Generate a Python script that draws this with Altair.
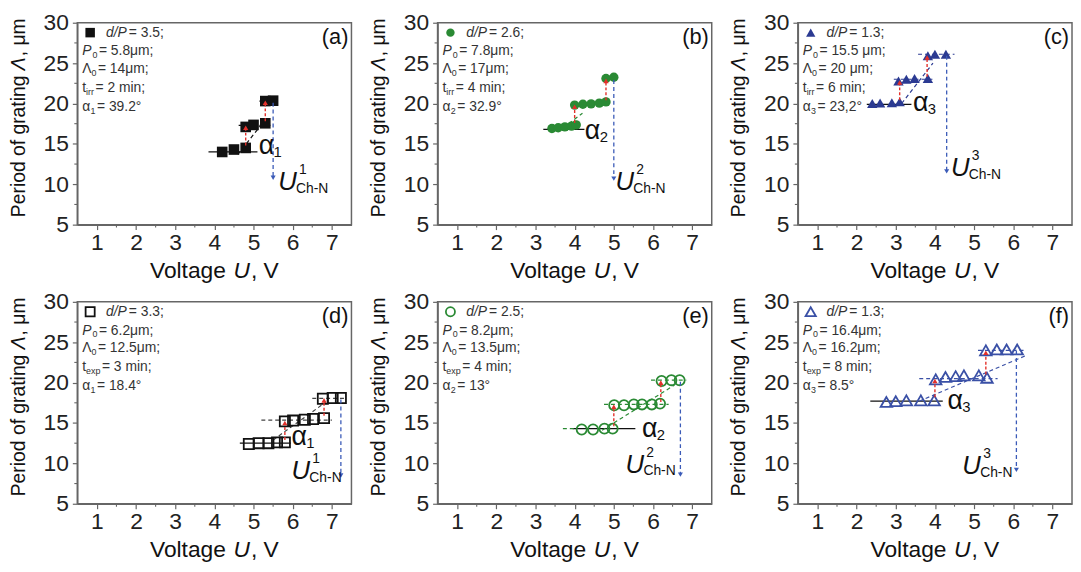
import altair as alt
import pandas as pd

# ---------------- data ----------------
a_U = [4.2, 4.5, 4.8, 4.8, 5.0, 5.3, 5.3, 5.5]
a_L = [14.0, 14.3, 14.5, 17.1, 17.35, 17.55, 20.3, 20.35]
b_U = [3.42, 3.58, 3.75, 3.92, 4.04, 4.0, 4.21, 4.42, 4.63, 4.8, 4.8, 5.0]
b_L = [16.9, 17.0, 17.1, 17.2, 17.35, 19.8, 19.9, 19.95, 20.05, 20.2, 23.1, 23.25]
c_U = [2.4, 2.6, 2.9, 3.1, 3.07, 3.27, 3.48, 3.82, 3.82, 4.0, 4.28]
c_L = [20.0, 20.05, 20.1, 20.2, 22.8, 23.0, 23.1, 23.1, 25.9, 26.1, 26.1]
d_U = [4.88, 5.13, 5.38, 5.6, 5.8, 5.8, 6.01, 6.31, 6.52, 6.8, 6.77, 7.02, 7.23]
d_L = [12.4, 12.5, 12.5, 12.6, 12.6, 15.2, 15.3, 15.4, 15.5, 15.6, 18.0, 18.1, 18.1]
e_U = [4.18, 4.47, 4.76, 4.97, 5.01, 5.26, 5.51, 5.72, 5.97, 6.18, 6.22, 6.47, 6.68]
e_L = [14.2, 14.2, 14.3, 14.3, 17.2, 17.2, 17.3, 17.3, 17.3, 17.4, 20.2, 20.3, 20.3]
f_U = [2.76, 3.0, 3.27, 3.64, 3.98, 4.02, 4.27, 4.53, 4.74, 5.12, 5.33, 5.3, 5.58, 5.83, 6.1]
f_L = [17.6, 17.7, 17.8, 17.8, 17.8, 20.4, 20.7, 20.8, 20.9, 20.9, 20.6, 24.0, 24.1, 24.1, 24.1]

panel_tags = ["(a)", "(b)", "(c)", "(d)", "(e)", "(f)"]
dP_vals = ["3.5", "2.6", "1.3", "3.3", "2.5", "1.3"]
P0_vals = ["5.8μm;", "7.8μm;", "15.5 μm;", "6.2μm;", "8.2μm;", "16.4μm;"]
L0_vals = ["14μm;", "17μm;", "20 μm;", "12.5μm;", "13.5μm;", "16.2μm;"]
t_subs = ["irr", "irr", "irr", "exp", "exp", "exp"]
t_vals = ["2 min;", "4 min;", "6 min;", "3 min;", "4 min;", "8 min;"]
alpha_idx = ["1", "2", "3", "1", "2", "3"]
alpha_vals = ["39.2°", "32.9°", "23,2°", "18.4°", "13°", "8.5°"]

x_ticks = [1, 2, 3, 4, 5, 6, 7]
y_ticks = [5, 10, 15, 20, 25, 30]
x_minor = [1.5, 2.5, 3.5, 4.5, 5.5, 6.5]
y_minor = [7.5, 12.5, 17.5, 22.5, 27.5]

# reference horizontal line through the first level: (U start, U end, Λ)
ref_lines = [(3.85, 5.1, 14.0), (3.2, 4.25, 16.8), (2.26, 3.4, 19.9),
             (4.65, 5.95, 12.5), (3.95, 5.55, 14.3), (2.35, 4.2, 17.7)]
# dashed guide lines: (U1, Λ1, U2, Λ2)
dash_lines = [
    [(4.62, 17.3, 5.45, 17.3), (5.15, 20.3, 5.62, 20.3), (4.6, 13.7, 5.35, 18.3)],
    [(3.85, 17.5, 4.2, 18.8)],
    [(2.95, 23.0, 3.95, 23.0), (3.57, 26.1, 4.5, 26.1), (3.15, 20.0, 3.95, 25.0)],
    [(5.2, 15.35, 7.0, 15.35), (6.5, 18.05, 7.35, 18.05), (5.5, 12.9, 6.85, 17.6)],
    [(3.7, 14.3, 4.0, 14.3), (4.75, 17.3, 6.4, 17.3), (5.95, 20.3, 6.85, 20.3), (4.7, 14.1, 6.55, 19.7)],
    [(3.6, 20.5, 5.6, 20.5), (5.1, 24.0, 6.3, 24.0), (3.6, 17.7, 6.3, 23.3)],
]
# red step arrows: (U, Λ from, Λ to)
red_arrows = [
    [(4.8, 14.8, 17.0), (5.3, 17.8, 20.1)],
    [(4.0, 17.6, 19.6), (4.8, 20.4, 22.8)],
    [(3.1, 20.4, 22.6), (3.8, 23.3, 25.7)],
    [(5.8, 12.9, 15.0), (6.8, 15.9, 17.8)],
    [(5.0, 14.6, 17.0), (6.2, 17.6, 20.0)],
    [(4.0, 18.2, 20.2), (5.3, 21.0, 23.7)],
]
# blue arrows down to U_Ch-N: (U, Λ from, Λ to)
blue_arrows = [(5.5, 20.1, 10.8), (5.0, 22.9, 10.7), (4.3, 25.9, 11.6),
               (7.23, 17.9, 8.5), (6.7, 20.1, 8.6), (6.08, 23.9, 9.2)]
# label anchors (U, Λ)
alpha_pos = [(5.13, 14.7), (4.26, 16.6), (3.44, 20.07), (5.97, 13.2), (5.72, 14.3), (4.32, 17.7)]
ulab_pos = [(5.63, 10.3), (5.04, 10.25), (4.41, 12.0), (5.97, 9.1), (5.3, 9.85), (4.7, 9.7)]

# ---------------- styling ----------------
BLACK = "#111111"
GREEN = "#2a8a34"
BLUE = "#2b3a92"
OBLUE = "#3a50a6"
RED = "#e3302a"
ABLUE = "#3b5bb8"
FRAME = "#666666"
TXT = "#333333"
FONT = "Liberation Sans, Arial, sans-serif"

styles = [
    dict(shape="square", filled=True, color=BLACK, size=115, sw=1, line=BLACK),
    dict(shape="circle", filled=True, color=GREEN, size=90, sw=1, line=GREEN),
    dict(shape="triangle-up", filled=True, color=BLUE, size=110, sw=1, line=BLUE),
    dict(shape="square", filled=False, color=BLACK, size=105, sw=1.8, line="#444444"),
    dict(shape="circle", filled=False, color=GREEN, size=105, sw=1.8, line=GREEN),
    dict(shape="triangle-up", filled=False, color=OBLUE, size=135, sw=1.8, line=OBLUE),
]

W, H = 277, 204

AW = {' ': .278, '.': .278, ',': .278, ';': .278, ':': .278, '=': .584, '/': .278, '-': .333,
      '°': .4, 'μ': .576, 'm': .833, 'i': .222, 'n': .556, 'r': .333, 't': .278, 'e': .556,
      'x': .5, 'p': .556, 'd': .556, 'P': .667, 'Λ': .667, 'α': .6, 'V': .667, 'o': .556,
      'l': .222, 'a': .556, 'g': .556, 'U': .722, 'f': .278, '(': .333, ')': .333}


def tw(s, size):
    return sum(AW.get(c, 0.556) for c in s) * size


ONE = pd.DataFrame({"k": [0]})

XS = alt.Scale(domain=[0.5, 7.5], nice=False, zero=False)
YS = alt.Scale(domain=[5, 30], nice=False, zero=False)
AX_COMMON = dict(title=None, grid=False, labelFontSize=23, labelFont=FONT, labelColor="#222222",
                 tickSize=5, domainColor=FRAME, tickColor=FRAME, domainWidth=1.5, tickWidth=1.2,
                 labelFlush=False, labelOverlap=False)
XA = alt.Axis(values=x_ticks, labelPadding=2, **AX_COMMON)
YA = alt.Axis(values=y_ticks, labelPadding=4, **AX_COMMON)


def X(f):
    return alt.X(f, type="quantitative", scale=XS, axis=XA)


def Y(f):
    return alt.Y(f, type="quantitative", scale=YS, axis=YA)


def px_text(x, y, txt, size, italic=False, color=BLACK, align="left", angle=None):
    kw = dict(text=txt, fontSize=size, fontStyle="italic" if italic else "normal", font=FONT,
              color=color, align=align, baseline="middle")
    if angle is not None:
        kw["angle"] = angle
    return alt.Chart(ONE).mark_text(**kw).encode(x=alt.value(x), y=alt.value(y))


def rich_px(x, y, pieces, color, angle=None):
    """pieces: (text, size, italic, dy, extra advance after the piece)"""
    out = []
    adv = 0.0
    for txt, size, it, dy, extra in pieces:
        if angle is None:
            out.append(px_text(x + adv, y + dy, txt, size, it, color))
        else:
            out.append(px_text(x + dy, y - adv, txt, size, it, color, angle=angle))
        adv += tw(txt, size) + extra
    return out


def data_text(U, L, txt, size, italic, dx, dy, color=BLACK):
    df = pd.DataFrame({"U": [U], "L": [L]})
    return alt.Chart(df).mark_text(text=txt, fontSize=size, fontStyle="italic" if italic else "normal",
                                   font=FONT, color=color, align="left", baseline="middle",
                                   dx=dx, dy=dy).encode(x=X("U"), y=Y("L"))


def segs(rows, color, dash, width):
    df = pd.DataFrame(rows, columns=["U", "L", "U2", "L2"])
    mk = dict(color=color, strokeWidth=width)
    if dash:
        mk["strokeDash"] = dash
    return alt.Chart(df).mark_rule(**mk).encode(x=X("U"), y=Y("L"), x2="U2", y2="L2")


def panel(i, U, L):
    st = styles[i]
    layers = []
    # minor ticks
    layers.append(alt.Chart(pd.DataFrame({"U": x_minor})).mark_rule(color=FRAME, strokeWidth=1.1)
                  .encode(x=X("U"), y=alt.value(H), y2=alt.value(H + 3)))
    layers.append(alt.Chart(pd.DataFrame({"L": y_minor})).mark_rule(color=FRAME, strokeWidth=1.1)
                  .encode(y=Y("L"), x=alt.value(0), x2=alt.value(-3)))
    # guide lines
    u1, u2, lv = ref_lines[i]
    layers.append(segs([(u1, lv, u2, lv)], BLACK, None, 1.3))
    layers.append(segs(dash_lines[i], st["line"], [4, 3], 1.2))
    # data points
    df = pd.DataFrame({"U": U, "L": L})
    layers.append(alt.Chart(df).mark_point(shape=st["shape"], filled=st["filled"], color=st["color"],
                                           size=st["size"], strokeWidth=st["sw"], opacity=1)
                  .encode(x=X("U"), y=Y("L")))
    # red arrows
    ra = red_arrows[i]
    layers.append(segs([(u, l1, u, l2) for u, l1, l2 in ra], RED, [3, 2], 1.4))
    layers.append(alt.Chart(pd.DataFrame({"U": [r[0] for r in ra], "L": [r[2] for r in ra]}))
                  .mark_point(shape="triangle-up", filled=True, color=RED, size=28, opacity=1)
                  .encode(x=X("U"), y=Y("L")))
    # blue arrow
    bu, b1, b2 = blue_arrows[i]
    layers.append(segs([(bu, b1, bu, b2)], ABLUE, [4, 3], 1.3))
    layers.append(alt.Chart(pd.DataFrame({"U": [bu], "L": [b2]}))
                  .mark_point(shape="triangle-down", filled=True, color=ABLUE, size=26, opacity=1)
                  .encode(x=X("U"), y=Y("L")))
    # alpha label
    au, al = alpha_pos[i]
    layers.append(data_text(au, al, "α", 27, False, 0, 0))
    layers.append(data_text(au, al, alpha_idx[i], 15, False, 15, 6))
    # U_Ch-N label
    uu, ul = ulab_pos[i]
    layers.append(data_text(uu, ul, "U", 26, True, 0, 0))
    layers.append(data_text(uu, ul, alpha_idx[i], 14, False, 21, -12))
    layers.append(data_text(uu, ul, "Ch-N", 14, False, 18, 7))
    # legend block
    layers.append(alt.Chart(ONE).mark_point(shape=st["shape"], filled=st["filled"], color=st["color"],
                                            size=st["size"] * 0.8, strokeWidth=st["sw"], opacity=1)
                  .encode(x=alt.value(13), y=alt.value(10)))
    fs, ss = 14, 9
    layers += rich_px(29, 10, [("d/P", fs, True, 0, 2), (" = " + dP_vals[i] + ";", fs, False, 0, 0)], TXT)
    layers += rich_px(5, 29, [("P", fs, True, 0, 1), ("0", ss, False, 4, 1.5), (" = " + P0_vals[i], fs, False, 0, 0)], TXT)
    layers += rich_px(5, 47, [("Λ", fs, False, 0, 0), ("0", ss, False, 4, 1.5), (" = " + L0_vals[i], fs, False, 0, 0)], TXT)
    layers += rich_px(5, 66, [("t", fs, False, 0, 0), (t_subs[i], ss, False, 4, 1.5), (" = " + t_vals[i], fs, False, 0, 0)], TXT)
    layers += rich_px(5, 85, [("α", fs, False, 0, 0), (alpha_idx[i], ss, False, 4, 1.5), (" = " + alpha_vals[i], fs, False, 0, 0)], TXT)
    # panel tag
    layers.append(px_text(W - 3, 14, panel_tags[i], 22, False, BLACK, align="right"))
    # axis titles (with italic symbols)
    xt = [("Voltage ", 23, False, 0, 0), ("U", 23, True, 0, 1), (", V", 23, False, 0, 0)]
    xw = sum(tw(p[0], p[1]) + p[4] for p in xt)
    layers += rich_px(W / 2 - xw / 2, H + 47, xt, BLACK)
    yt = [("Period of grating ", 19.5, False, 0, 0), ("Λ", 19.5, True, 0, 1), (", μm", 19.5, False, 0, 0)]
    yw = sum(tw(p[0], p[1]) + p[4] for p in yt)
    layers += rich_px(-59, H / 2 - 6 + yw / 2, yt, BLACK, angle=270)
    return alt.layer(*layers).properties(width=W, height=H)


series = [(a_U, a_L), (b_U, b_L), (c_U, c_L), (d_U, d_L), (e_U, e_L), (f_U, f_L)]
charts = [panel(i, u, l) for i, (u, l) in enumerate(series)]

row1 = alt.hconcat(*charts[:3], spacing=16)
row2 = alt.hconcat(*charts[3:], spacing=16)
chart = (alt.vconcat(row1, row2, spacing=6)
         .properties(padding={"left": 0, "top": 0, "right": 0, "bottom": 0}, background="white")
         .configure_view(stroke=FRAME, strokeWidth=1.5))

chart.save("out.html", embed_options={"renderer": "svg", "actions": False})
